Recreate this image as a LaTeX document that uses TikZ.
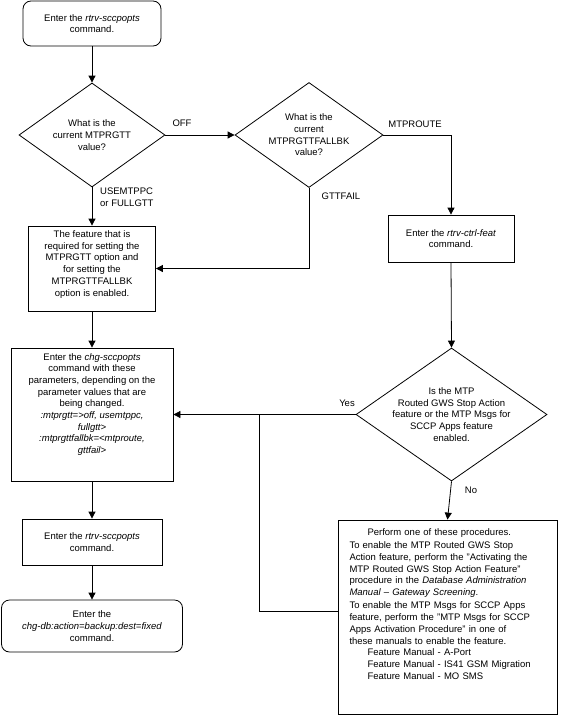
\documentclass[tikz,border=0pt]{standalone}
\usepackage{fontspec}
\setmainfont{Liberation Sans}
\usetikzlibrary{shapes.geometric,arrows.meta}
\begin{document}
\begin{tikzpicture}[x=1pt,y=-1pt,
  font=\fontsize{9.5}{11.7}\selectfont,
  box/.style={draw,line width=0.8pt,inner sep=0pt,align=center},
  rbox/.style={box,rounded corners=8pt},
  dia/.style={draw,line width=0.8pt,diamond,inner sep=0pt},
  txt/.style={inner sep=0pt,align=center},
  arr/.style={draw,line width=0.8pt,-{Triangle[length=7pt,width=7pt]}},
  ln/.style={draw,line width=0.8pt}]
\useasboundingbox (0,0) rectangle (565,723);

\node[rbox,minimum width=138pt,minimum height=45pt] (start) at (92,23.5) {Enter the \textit{rtrv-sccpopts}\\command.};

\node[dia,minimum width=146pt,minimum height=104pt,
  label={[txt]center:{What is the\\current MTPRGTT\\value?}}] (d1) at (92,135) {};

\node[dia,minimum width=148pt,minimum height=105pt,
  label={[txt]center:{What is the\\current\\MTPRGTTFALLBK\\value?}}] (d2) at (309,135) {};

\node[box,minimum width=126pt,minimum height=47pt] (ctrl) at (451,238.5) {Enter the \textit{rtrv-ctrl-feat}\\command.};

\node[box,minimum width=127pt,minimum height=85pt] (feat) at (92,268.5) {};
\node[txt,anchor=north] (feattext) at (92,230.5) {The feature that is\\required for setting the\\MTPRGTT option and\\for setting the\\MTPRGTTFALLBK\\option is enabled.};

\node[box,minimum width=162pt,minimum height=133pt] (chg) at (92,414.5) {};
\node[txt,anchor=north] (chgtext) at (92,353) {Enter the \textit{chg-sccpopts}\\command with these\\parameters, depending on the\\parameter values that are\\being changed.\\\textit{:mtprgtt=>off, usemtppc,}\\\textit{fullgtt>}\\\textit{:mtprgttfallbk=<mtproute,}\\\textit{gttfail>}};

\node[dia,minimum width=191pt,minimum height=133pt,
  label={[txt]center:{Is the MTP\\Routed GWS Stop Action\\feature or the MTP Msgs for\\SCCP Apps feature\\enabled.}}] (d3) at (451.5,414.5) {};

\node[box,minimum width=219pt,minimum height=194pt] (proc) at (447.5,617) {};
\node[inner sep=0pt,text width=198pt,anchor=north] (proctext) at (448.5,528.5) {%
  \raggedright\hspace*{18pt}Perform one of these procedures.\par\vspace{1.6pt}%
  To enable the MTP Routed GWS Stop\\
  Action feature, perform the "Activating the\\
  MTP Routed GWS Stop Action Feature"\\
  procedure in the \textit{Database Administration}\\
  \textit{Manual – Gateway Screening}.\par\vspace{1.6pt}%
  To enable the MTP Msgs for SCCP Apps\\
  feature, perform the "MTP Msgs for SCCP\\
  Apps Activation Procedure" in one of\\
  these manuals to enable the feature.\\
  \hspace*{18pt}Feature Manual - A-Port\\
  \hspace*{18pt}Feature Manual - IS41 GSM Migration\\
  \hspace*{18pt}Feature Manual - MO SMS\par};

\node[box,minimum width=140pt,minimum height=46pt] (rtrv2) at (92,542) {Enter the \textit{rtrv-sccpopts}\\command.};

\node[rbox,minimum width=181pt,minimum height=52pt] (end) at (92,626) {Enter the\\\textit{chg-db:action=backup:dest=fixed}\\command.};

% labels
\node[txt] (loff) at (182,123) {OFF};
\node[txt] (lmtp) at (415,124) {MTPROUTE};
\node[txt] (lgtt) at (341,196) {GTTFAIL};
\node[txt,align=left,anchor=north west] (luse) at (100,187.5) {USEMTPPC\\or FULLGTT};
\node[txt] (lyes) at (347,403) {Yes};
\node[txt] (lno) at (471,490) {No};

% connectors
\draw[arr] (start.south) -- (d1.north);
\draw[arr] (d1.east) -- (d2.west);
\draw[arr] (d2.east) -| (ctrl.north);
\draw[arr] (d2.south) |- (feat.east);
\draw[arr] (d1.south) -- (feat.north);
\draw[arr] (feat.south) -- (chg.north);
\draw[arr] (ctrl.south) -- (d3.north);
\draw[arr] (d3.west) -- (chg.east);
\draw[arr] (d3.south) -- (proc.north);
\coordinate (m) at (259,611);
\draw[ln] (proc.west |- m) -- (m) -- (m |- d3.west);
\draw[arr] (chg.south) -- (rtrv2.north);
\draw[arr] (rtrv2.south) -- (end.north);
\end{tikzpicture}
\end{document}
